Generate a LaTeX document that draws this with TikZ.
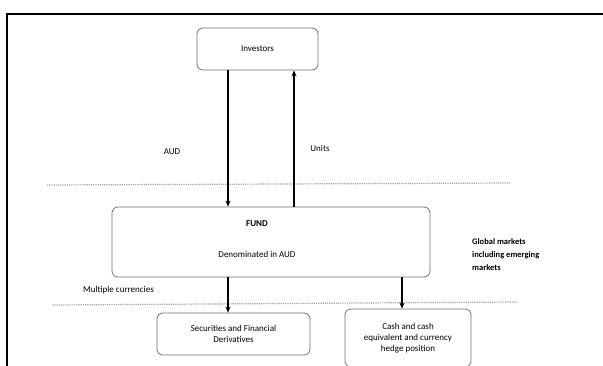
\documentclass[tikz,border=0pt]{standalone}
\usepackage{fontspec}
\setmainfont{Carlito}
\usetikzlibrary{arrows.meta}
\begin{document}
\begin{tikzpicture}[x=1pt,y=-1pt,
  box/.style={draw=black!55, line width=0.8pt, rounded corners=6pt, align=center, font=\fontsize{9}{11}\selectfont, inner sep=0pt},
  lbl/.style={font=\fontsize{9}{11}\selectfont, inner sep=0pt, align=left},
  flow/.style={line width=1.2pt, -{Stealth[length=6pt,width=5pt]}},
  sep/.style={draw=black!35, line width=1.2pt, densely dotted}]
\useasboundingbox (0,0) rectangle (603,365);
\clip (0,0) rectangle (603,365);
\fill[white] (0,0) rectangle (603,365);
\draw[line width=1.6pt] (7,380) -- (7,14) -- (620,14);
% nodes
\node[box, minimum width=121pt, minimum height=42pt] (inv) at (257.5,49) {Investors};
\node[box, minimum width=318pt, minimum height=70pt] (fund) at (271,242) {};
\node[lbl, font=\fontsize{9}{11}\selectfont\bfseries] (fundt) at (257,224) {FUND};
\node[lbl] (den) at (257,254) {Denominated in AUD};
\node[box, minimum width=153pt, minimum height=42pt] (sec) at (233.5,334) {Securities and Financial\\Derivatives};
\node[box, minimum width=126pt, minimum height=58pt] (cash) at (408,338) {Cash and cash\\equivalent and currency\\hedge position};
% labels
\node[lbl] (aud) at (172,152) {AUD};
\node[lbl] (units) at (320,148) {Units};
\node[lbl, anchor=west] (multi) at (83,290) {Multiple currencies};
\node[lbl, anchor=north west, font=\fontsize{8.5}{13}\selectfont\bfseries] (glob) at (472,238) {Global markets\\including emerging\\markets};
% separators
\coordinate (s1a) at (47,185); \coordinate (s1b) at (511,183);
\coordinate (s2a) at (52,305); \coordinate (s2b) at (517,302);
\draw[sep] (s1a) -- (s1b);
\draw[sep] (s2a) -- (s2b);
% arrows
\draw[flow] (inv.south -| 228,0) -- (fund.north -| 228,0);
\draw[flow] (fund.north -| 294,0) -- (inv.south -| 294,0);
\draw[flow] (fund.south -| 228,0) -- (sec.north -| 228,0);
\draw[flow] (fund.south -| 402,0) -- (cash.north -| 402,0);
\end{tikzpicture}
\end{document}
